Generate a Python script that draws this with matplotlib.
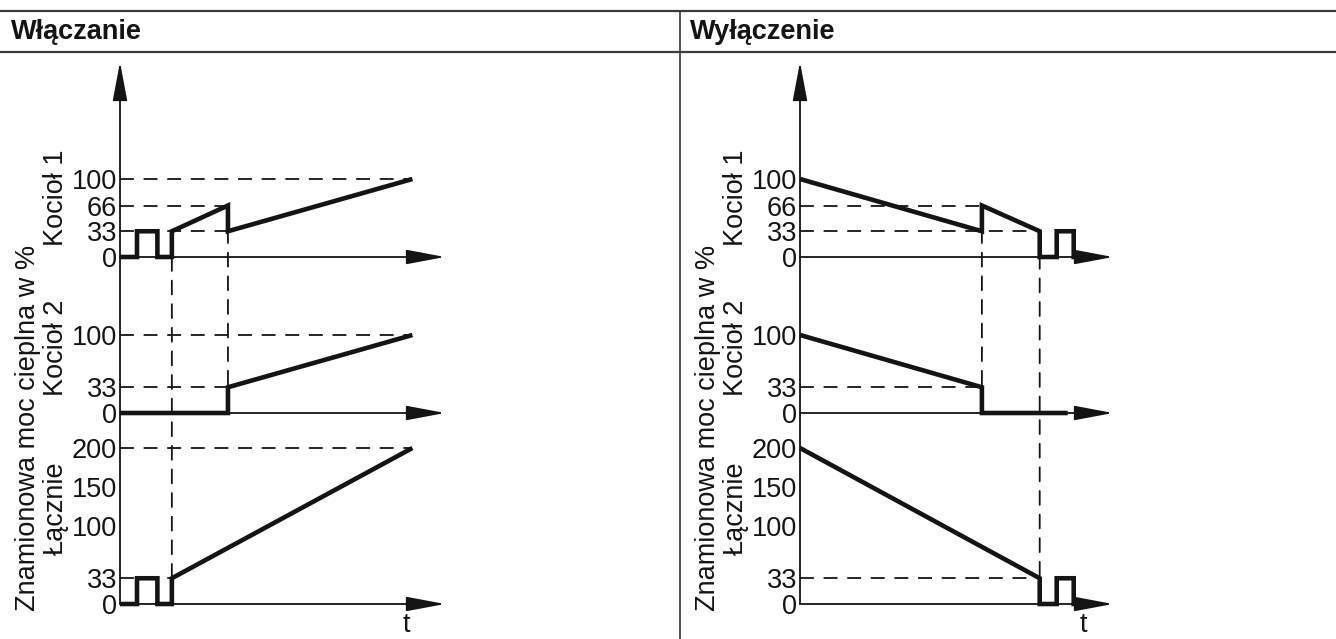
import matplotlib
matplotlib.use('Agg')
import matplotlib.pyplot as plt
from matplotlib.patches import ConnectionPatch
from matplotlib.lines import Line2D

plt.rcParams['font.family'] = ['Liberation Sans', 'DejaVu Sans']

# ---- data (time in arbitrary units, power in %) ----
headers = ['Włączanie', 'Wyłączenie']
row_labels = ['Kocioł 1', 'Kocioł 2', 'Łącznie']
y_title = 'Znamionowa moc cieplna w %'

ticks_k1 = [0, 33, 66, 100]
ticks_k2 = [0, 33, 100]
ticks_sum = [0, 33, 100, 150, 200]

# switching on
on_k1_t = [0, 1.0, 1.0, 2.2, 2.2, 3.05, 3.05, 6.35, 6.35, 17.2]
on_k1 = [0, 0, 33, 33, 0, 0, 33, 66, 33, 100]
on_k2_t = [0, 6.35, 6.35, 17.2]
on_k2 = [0, 0, 33, 100]
on_sum_t = [0, 1.0, 1.0, 2.2, 2.2, 3.05, 3.05, 17.2]
on_sum = [0, 0, 33, 33, 0, 0, 33, 200]

# switching off
off_k1_t = [0, 10.7, 10.7, 14.1, 14.1, 15.1, 15.1, 16.1, 16.1, 16.9]
off_k1 = [100, 33, 66, 33, 0, 0, 33, 33, 0, 0]
off_k2_t = [0, 10.7, 10.7, 15.75]
off_k2 = [100, 33, 0, 0]
off_sum_t = [0, 14.1, 14.1, 15.1, 15.1, 16.1, 16.1, 16.9]
off_sum = [200, 33, 0, 0, 33, 33, 0, 0]

# dashed guides: (row, value, end time) and (time, row from, value from, row to, value to)
on_hguides = [(0, 100, 17.2), (0, 66, 6.35), (0, 33, 6.35), (1, 100, 17.2),
              (1, 33, 6.35), (2, 200, 17.2), (2, 33, 3.05)]
on_vguides = [(3.05, 0, 0, 2, 33), (6.35, 0, 66, 1, 33)]
off_hguides = [(0, 66, 10.7), (0, 33, 14.1), (1, 33, 10.7), (2, 33, 14.1)]
off_vguides = [(10.7, 0, 66, 1, 33), (14.1, 0, 33, 2, 33)]

# ---- layout ----
W, H = 1336, 639
INK = '#141414'
FS = 19.5
PX_T = 17.0     # pixels per time unit
PX_V = 0.78     # pixels per percent
rows_px = [(62, 290, 257), (290, 430, 413), (430, 604, 604)]  # top, bottom, zero line
DASH_LW = 1.3
DASH = (0, (10 / DASH_LW, 7 / DASH_LW))
ARROW = '-|>,head_length=2.4,head_width=0.45'

fig = plt.figure(figsize=(W / 100, H / 100), dpi=100)


def fx(px):
    return px / W


def fy(py):
    return 1 - py / H


def draw_panel(x0, x1, series, hguides, vguides, t_x):
    axes = []
    ticks = [ticks_k1, ticks_k2, ticks_sum]
    for (top, bot, zero), (t, v), tk in zip(rows_px, series, ticks):
        ax = fig.add_axes([fx(x0), fy(bot), (x1 - x0) / W, (bot - top) / H])
        ax.set_xlim(0, (x1 - x0) / PX_T)
        ax.set_ylim(-(bot - zero) / PX_V, (zero - top) / PX_V)
        ax.patch.set_visible(False)
        for s in ax.spines.values():
            s.set_visible(False)
        ax.set_xticks([])
        ax.set_yticks(tk)
        ax.tick_params(axis='y', length=0, pad=2.2, labelsize=FS, labelcolor=INK)
        ax.plot(t, v, color=INK, lw=3.3, solid_joinstyle='miter',
                solid_capstyle='butt', clip_on=False, zorder=5)
        # x axis with arrow
        xa = ConnectionPatch(xyA=(0, 0), coordsA='data', axesA=ax,
                             xyB=(ax.get_xlim()[1], 0), coordsB='data', axesB=ax,
                             arrowstyle=ARROW, mutation_scale=10, lw=1.3,
                             color=INK, fc=INK)
        fig.add_artist(xa)
        axes.append(ax)

    # y axis with arrow, running through all three rows
    ya = ConnectionPatch(xyA=(0, 0), coordsA='axes fraction', axesA=axes[2],
                         xyB=(0, 1), coordsB='axes fraction', axesB=axes[0],
                         arrowstyle=ARROW, mutation_scale=10, lw=1.3,
                         color=INK, fc=INK)
    fig.add_artist(ya)

    for row, val, t_end in hguides:
        axes[row].plot([0, t_end], [val, val], color=INK, lw=DASH_LW, ls=DASH,
                       clip_on=False, zorder=2)
    for t, ra, va, rb, vb in vguides:
        con = ConnectionPatch(xyA=(t, va), coordsA='data', axesA=axes[ra],
                              xyB=(t, vb), coordsB='data', axesB=axes[rb],
                              color=INK, lw=DASH_LW, linestyle=DASH)
        fig.add_artist(con)

    for lab, y in zip(row_labels, [198, 348, 508]):
        fig.text(fx(x0 - 57), fy(y), lab, rotation=90, rotation_mode='anchor',
                 ha='center', va='baseline', fontsize=FS, color=INK)
    fig.text(fx(x0 - 85), fy(428), y_title, rotation=90, rotation_mode='anchor',
             ha='center', va='baseline', fontsize=FS, color=INK)
    fig.text(fx(t_x), fy(625), 't', ha='center', va='center', fontsize=FS, color=INK)
    return axes


draw_panel(120, 445, [(on_k1_t, on_k1), (on_k2_t, on_k2), (on_sum_t, on_sum)],
           on_hguides, on_vguides, 406)
draw_panel(800, 1113, [(off_k1_t, off_k1), (off_k2_t, off_k2), (off_sum_t, off_sum)],
           off_hguides, off_vguides, 1083)

# table frame
RULE = '#3a3a3a'
for y in (11, 52):
    fig.add_artist(Line2D([0, 1], [fy(y), fy(y)], transform=fig.transFigure,
                          color=RULE, lw=1.6))
fig.add_artist(Line2D([fx(680), fx(680)], [fy(11), 0], transform=fig.transFigure,
                      color=RULE, lw=1.2))
fig.text(fx(11), fy(39), headers[0], fontsize=FS, fontweight='bold', color=INK,
         ha='left', va='baseline')
fig.text(fx(690), fy(39), headers[1], fontsize=FS, fontweight='bold', color=INK,
         ha='left', va='baseline')

fig.savefig('out.png', dpi=100, facecolor='white')
